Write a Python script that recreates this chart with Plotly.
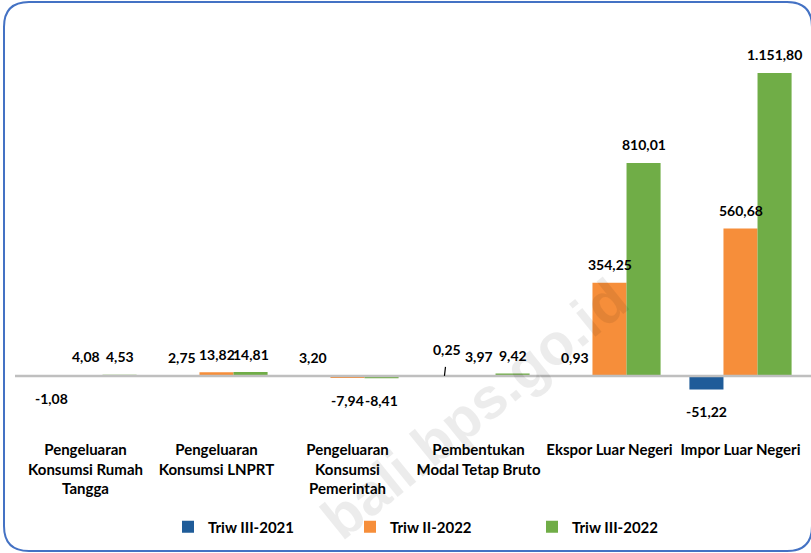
import plotly.graph_objects as go

categories = [
    "Pengeluaran<br>Konsumsi Rumah<br>Tangga",
    "Pengeluaran<br>Konsumsi LNPRT",
    "Pengeluaran<br>Konsumsi<br>Pemerintah",
    "Pembentukan<br>Modal Tetap Bruto",
    "Ekspor Luar Negeri",
    "Impor Luar Negeri",
]
series_names = ["Triw III-2021", "Triw II-2022", "Triw III-2022"]
triw_iii_2021 = [-1.08, 2.75, 3.20, 0.25, 0.93, -51.22]
triw_ii_2022 = [4.08, 13.82, -7.94, 3.97, 354.25, 560.68]
triw_iii_2022 = [4.53, 14.81, -8.41, 9.42, 810.01, 1151.80]
series_values = [triw_iii_2021, triw_ii_2022, triw_iii_2022]
colors = ["#1F5C99", "#F68E3A", "#70AD47"]

FONT = "Lato"
W, H = 811, 553
ML, MR, MT, MB = 20, 5, 40, 117
PW, PH = W - ML - MR, H - MT - MB
BARGAP = 0.22


def fmt(v):
    s = f"{abs(v):,.2f}"
    s = s.replace(",", "X").replace(".", ",").replace("X", ".")
    return ("-" if v < 0 else "") + s


def px_x(p):
    return (p - ML) / PW


def px_y(p):
    return (MT + PH - p) / PH


fig = go.Figure()
for name, vals, col in zip(series_names, series_values, colors):
    fig.add_trace(go.Bar(
        name=name, x=list(range(len(categories))), y=vals,
        marker=dict(color=col, line=dict(width=0)),
        hoverinfo="skip",
    ))

bw = (1 - BARGAP) / 3
label_font = dict(family=FONT, size=14, color="#000000", weight="bold")
annotations = []
for k, vals in enumerate(series_values):
    for i, v in enumerate(vals):
        xpos = i + (k - 1) * bw
        if abs(v - 0.25) < 1e-9:
            annotations.append(dict(
                x=xpos, y=v, xref="x", yref="y", text=fmt(v),
                showarrow=True, ax=3, ay=-26, arrowhead=0, arrowwidth=1.2,
                arrowcolor="#000000", startstandoff=7, font=label_font,
            ))
        else:
            annotations.append(dict(
                x=xpos, y=v, xref="x", yref="y", text=fmt(v),
                showarrow=False, yanchor="middle",
                yshift=18 if v >= 0 else -22, font=label_font,
            ))

# watermark
annotations.append(dict(
    x=px_x(474), y=px_y(408), xref="paper", yref="paper",
    xanchor="center", yanchor="middle",
    text="<b>bali.bps.go.id</b>", showarrow=False, textangle=-39,
    font=dict(family="Liberation Sans", size=58, color="rgba(0,0,0,0.075)"),
))

# rounded border in paper coords
x0, x1, y0, y1, r = 4, 812, 2, 551, 25
rx, ry = r / PW, r / PH
path = (
    f"M {px_x(x0)} {px_y(y0) - ry} "
    f"Q {px_x(x0)} {px_y(y0)} {px_x(x0) + rx} {px_y(y0)} "
    f"L {px_x(x1) - rx} {px_y(y0)} "
    f"Q {px_x(x1)} {px_y(y0)} {px_x(x1)} {px_y(y0) - ry} "
    f"L {px_x(x1)} {px_y(y1) + ry} "
    f"Q {px_x(x1)} {px_y(y1)} {px_x(x1) - rx} {px_y(y1)} "
    f"L {px_x(x0) + rx} {px_y(y1)} "
    f"Q {px_x(x0)} {px_y(y1)} {px_x(x0)} {px_y(y1) + ry} Z"
)

shapes = [
    dict(type="line", xref="paper", yref="y", x0=px_x(15), x1=px_x(811), y0=0, y1=0,
         line=dict(color="#BFBFBF", width=2.5), layer="above"),
    dict(type="path", path=path, xref="paper", yref="paper",
         line=dict(color="#4472C4", width=2), fillcolor="rgba(0,0,0,0)", layer="above"),
]

fig.update_layout(
    width=W, height=H,
    margin=dict(l=ML, r=MR, t=MT, b=MB),
    paper_bgcolor="white", plot_bgcolor="white",
    barmode="group", bargap=BARGAP, bargroupgap=0,
    font=dict(family=FONT, size=14, color="#000000"),
    xaxis=dict(
        tickmode="array", tickvals=list(range(len(categories))), ticktext=categories,
        range=[-0.5, len(categories) - 0.5], showgrid=False, showline=False,
        ticks="", zeroline=False, ticklabelstandoff=3,
        tickfont=dict(family=FONT, size=15, color="#000000", weight="bold"),
    ),
    yaxis=dict(
        range=[-228, 1277], showgrid=False, showticklabels=False,
        zeroline=False, ticks="", showline=False,
    ),
    showlegend=True,
    legend=dict(
        orientation="h", x=px_x(168), xanchor="left", y=px_y(527), yanchor="middle",
        font=dict(family=FONT, size=15, color="#000000", weight="bold"),
        entrywidth=137, entrywidthmode="pixels", itemwidth=30,
        bgcolor="rgba(0,0,0,0)",
    ),
    annotations=annotations,
    shapes=shapes,
)

fig.write_html("out.html")
